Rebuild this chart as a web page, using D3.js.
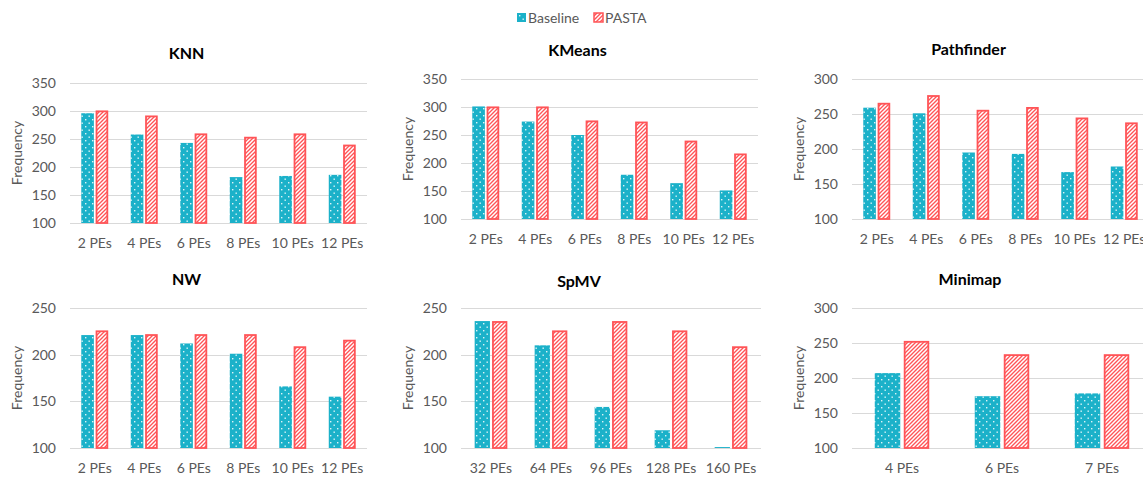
<!DOCTYPE html>
<html>
<head>
<meta charset="utf-8">
<script src="https://cdn.jsdelivr.net/npm/d3@7"></script>
<style>
  html, body { margin: 0; padding: 0; background: #fff; }
  svg { display: block; font-family: Lato, "Open Sans", sans-serif; }
</style>
</head>
<body>
<svg id="chart" width="1143" height="477"></svg>
<script>
// ---- data ----
const seriesNames = ["Baseline", "PASTA"];

const knnCats = ["2 PEs", "4 PEs", "6 PEs", "8 PEs", "10 PEs", "12 PEs"];
const knnBaseline = [296, 258, 243, 182, 184, 186];
const knnPasta = [301, 292, 260, 254, 260, 240];
const knnTicks = [100, 150, 200, 250, 300, 350];

const kmeansCats = ["2 PEs", "4 PEs", "6 PEs", "8 PEs", "10 PEs", "12 PEs"];
const kmeansBaseline = [301, 274, 250, 179, 164, 151];
const kmeansPasta = [301, 301, 276, 274, 240, 217];
const kmeansTicks = [100, 150, 200, 250, 300, 350];

const pathfinderCats = ["2 PEs", "4 PEs", "6 PEs", "8 PEs", "10 PEs", "12 PEs"];
const pathfinderBaseline = [259, 251, 195, 193, 167, 175];
const pathfinderPasta = [266, 277, 256, 260, 245, 238];
const pathfinderTicks = [100, 150, 200, 250, 300];

const nwCats = ["2 PEs", "4 PEs", "6 PEs", "8 PEs", "10 PEs", "12 PEs"];
const nwBaseline = [221, 221, 212, 201, 166, 155];
const nwPasta = [226, 222, 222, 222, 209, 216];
const nwTicks = [100, 150, 200, 250];

const spmvCats = ["32 PEs", "64 PEs", "96 PEs", "128 PEs", "160 PEs"];
const spmvBaseline = [236, 210, 144, 119, 101];
const spmvPasta = [236, 226, 236, 226, 209];
const spmvTicks = [100, 150, 200, 250];

const minimapCats = ["4 PEs", "6 PEs", "7 PEs"];
const minimapBaseline = [207, 174, 178];
const minimapPasta = [253, 234, 234];
const minimapTicks = [100, 150, 200, 250, 300];

// ---- layout of the six panels (plot areas) ----
const layout = [
  { title: "KNN",        x: 70,  y: 83,  w: 297, h: 140, titleY: 55 },
  { title: "KMeans",     x: 461, y: 79,  w: 297, h: 140, titleY: 52 },
  { title: "Pathfinder", x: 852, y: 79,  w: 297, h: 140, titleY: 51 },
  { title: "NW",         x: 70,  y: 308, w: 297, h: 140, titleY: 281 },
  { title: "SpMV",       x: 461, y: 308, w: 300, h: 140, titleY: 283 },
  { title: "Minimap",    x: 852, y: 308, w: 300, h: 140, titleY: 281 }
];

const panelData = {
  "KNN":        { cats: knnCats, base: knnBaseline, pasta: knnPasta, ticks: knnTicks },
  "KMeans":     { cats: kmeansCats, base: kmeansBaseline, pasta: kmeansPasta, ticks: kmeansTicks },
  "Pathfinder": { cats: pathfinderCats, base: pathfinderBaseline, pasta: pathfinderPasta, ticks: pathfinderTicks },
  "NW":         { cats: nwCats, base: nwBaseline, pasta: nwPasta, ticks: nwTicks },
  "SpMV":       { cats: spmvCats, base: spmvBaseline, pasta: spmvPasta, ticks: spmvTicks },
  "Minimap":    { cats: minimapCats, base: minimapBaseline, pasta: minimapPasta, ticks: minimapTicks }
};

const TEAL = "#1BB1C9";
const RED = "#FF5457";
const TEXT = "#595959";
const GRID = "#D9D9D9";

const svg = d3.select("#chart");
const defs = svg.append("defs");

// dotted fill for Baseline bars
const dots = defs.append("pattern")
  .attr("id", "dots").attr("patternUnits", "userSpaceOnUse")
  .attr("width", 7).attr("height", 7);
dots.append("rect").attr("width", 7).attr("height", 7).attr("fill", TEAL);
dots.append("rect").attr("x", 1).attr("y", 1).attr("width", 1.4).attr("height", 1.4).attr("fill", "#fff").attr("opacity", 0.85);
dots.append("rect").attr("x", 4.5).attr("y", 4.5).attr("width", 1.4).attr("height", 1.4).attr("fill", "#fff").attr("opacity", 0.85);

// diagonal-stripe fill for PASTA bars
const stripes = defs.append("pattern")
  .attr("id", "stripes").attr("patternUnits", "userSpaceOnUse")
  .attr("width", 4).attr("height", 4);
stripes.append("rect").attr("width", 4).attr("height", 4).attr("fill", RED);
stripes.append("path")
  .attr("d", "M-1,1 L1,-1 M0,4 L4,0 M3,5 L5,3")
  .attr("stroke", "#fff").attr("stroke-width", 1.5);

// ---- legend ----
const legend = svg.append("g").attr("font-size", 14).attr("fill", TEXT);
const legendItems = [
  { name: seriesNames[0], x: 517, fill: "url(#dots)", stroke: "none" },
  { name: seriesNames[1], x: 594, fill: "url(#stripes)", stroke: RED }
];
legendItems.forEach(it => {
  legend.append("rect").attr("x", it.x).attr("y", 13).attr("width", 9).attr("height", 9)
    .attr("fill", it.fill).attr("stroke", it.stroke).attr("stroke-width", 1.5);
  legend.append("text").attr("x", it.x + 11).attr("y", 22.5).text(it.name);
});

// ---- panels ----
layout.forEach(p => {
  const d = panelData[p.title];
  const g = svg.append("g").attr("transform", `translate(${p.x},${p.y})`);

  const y = d3.scaleLinear()
    .domain([d.ticks[0], d.ticks[d.ticks.length - 1]])
    .range([p.h, 0]);
  const x = d3.scaleBand().domain(d.cats).range([0, p.w]).padding(0);
  const inner = d3.scaleBand().domain(seriesNames)
    .range([0, x.bandwidth()]).paddingInner(0.121).paddingOuter(0.785);

  // gridlines
  g.append("g")
    .call(d3.axisLeft(y).tickValues(d.ticks).tickSize(-p.w).tickFormat(""))
    .call(s => s.select(".domain").remove())
    .call(s => s.selectAll("line").attr("stroke", GRID).attr("stroke-width", 1)
      .attr("shape-rendering", "crispEdges"));

  // y tick labels
  g.append("g")
    .call(d3.axisLeft(y).tickValues(d.ticks).tickSize(0).tickPadding(14))
    .call(s => s.select(".domain").remove())
    .call(s => s.selectAll("text").attr("fill", TEXT).attr("font-size", 14)
      .attr("font-family", "Lato, 'Open Sans', sans-serif"));

  // x category labels
  g.append("g")
    .attr("transform", `translate(0,${p.h})`)
    .call(d3.axisBottom(x).tickSize(0).tickPadding(15))
    .call(s => s.select(".domain").remove())
    .call(s => s.selectAll("text").attr("fill", TEXT).attr("font-size", 14)
      .attr("font-family", "Lato, 'Open Sans', sans-serif"));

  const rows = d.cats.map((c, i) => ({ cat: c, base: d.base[i], pasta: d.pasta[i] }));

  // Baseline bars
  g.selectAll(".bar-base").data(rows).join("rect")
    .attr("class", "bar-base")
    .attr("x", r => x(r.cat) + inner("Baseline"))
    .attr("width", inner.bandwidth())
    .attr("y", r => y(r.base))
    .attr("height", r => y(d.ticks[0]) - y(r.base))
    .attr("fill", "url(#dots)");

  // PASTA bars (stroke drawn inside the bar outline)
  g.selectAll(".bar-pasta").data(rows).join("rect")
    .attr("class", "bar-pasta")
    .attr("x", r => x(r.cat) + inner("PASTA") + 0.9)
    .attr("width", inner.bandwidth() - 1.8)
    .attr("y", r => y(r.pasta) + 0.9)
    .attr("height", r => y(d.ticks[0]) - y(r.pasta) - 0.9)
    .attr("fill", "url(#stripes)")
    .attr("stroke", RED).attr("stroke-width", 1.8);

  // title
  g.append("text")
    .attr("x", p.w / 2 - 32).attr("y", p.titleY - p.y)
    .attr("text-anchor", "middle").attr("dominant-baseline", "middle")
    .attr("font-weight", "bold").attr("font-size", 16).attr("fill", "#000")
    .text(p.title);

  // y axis title
  g.append("text")
    .attr("transform", `translate(-52,${p.h / 2}) rotate(-90)`)
    .attr("text-anchor", "middle").attr("dominant-baseline", "middle")
    .attr("font-size", 14).attr("fill", TEXT)
    .text("Frequency");
});
</script>
</body>
</html>
